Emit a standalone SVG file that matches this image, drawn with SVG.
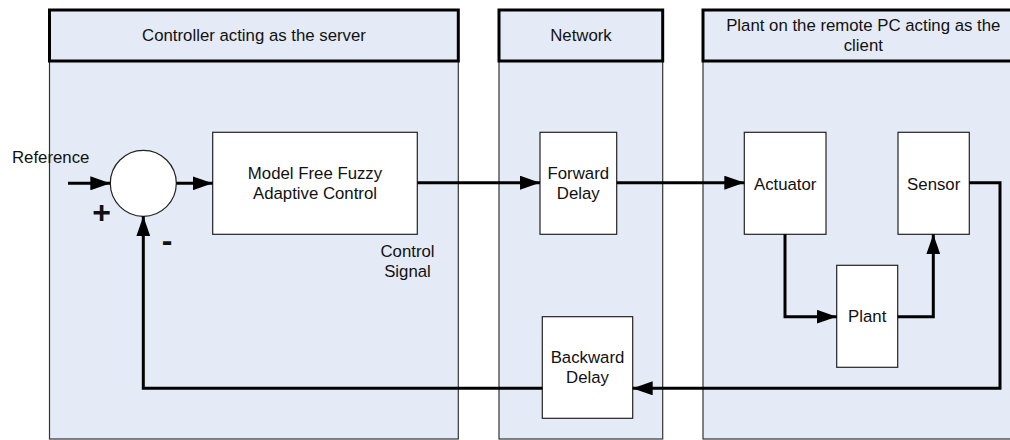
<svg xmlns="http://www.w3.org/2000/svg" width="1010" height="440" viewBox="0 0 1010 440">
  <style>
    .pool { fill: #e5ebf6; stroke: #333333; stroke-width: 1.2; }
    .hdr { fill: #e5ebf6; stroke: #000000; stroke-width: 3; }
    .box { fill: #ffffff; stroke: #222222; stroke-width: 1.2; }
    .sum { fill: #ffffff; stroke: #222222; stroke-width: 1.2; }
    text { font-family: "Liberation Sans", Arial, sans-serif; font-size: 16.8px; fill: #111111; }
    .c { text-anchor: middle; }
    .sign { font-weight: bold; font-size: 32px; text-anchor: middle; }
    .wire { fill: none; stroke: #000000; stroke-width: 3; }
  </style>
  <defs>
    <marker id="arrow" viewBox="0 0 20 14" refX="20" refY="7" markerWidth="20" markerHeight="14" markerUnits="userSpaceOnUse" orient="auto">
      <path d="M0,0 L20,7 L0,14 Z" fill="#000000"/>
    </marker>
  </defs>

  <!-- Swimlanes -->
  <g id="lane-controller">
    <rect class="pool" x="49.5" y="61" width="408.8" height="378"/>
    <rect class="hdr" x="49.5" y="10" width="408.8" height="51"/>
    <text class="c" x="254" y="40.7">Controller acting as the server</text>
  </g>
  <g id="lane-network">
    <rect class="pool" x="499" y="61" width="163.7" height="378"/>
    <rect class="hdr" x="499" y="10" width="163.7" height="51"/>
    <text class="c" x="581" y="40.7">Network</text>
  </g>
  <g id="lane-plant">
    <rect class="pool" x="703" y="61" width="330" height="378"/>
    <rect class="hdr" x="703" y="10" width="330" height="51"/>
    <text class="c" x="863.3" y="30.7">Plant on the remote PC acting as the</text>
    <text class="c" x="863.3" y="50.7">client</text>
  </g>

  <!-- Blocks -->
  <g id="summing-junction">
    <circle class="sum" cx="143.3" cy="183.3" r="33"/>
  </g>
  <g id="controller">
    <rect class="box" x="212.7" y="132.3" width="204.6" height="102"/>
    <text class="c" x="315" y="179">Model Free Fuzzy</text>
    <text class="c" x="315" y="199.3">Adaptive Control</text>
  </g>
  <g id="forward-delay">
    <rect class="box" x="540" y="132.3" width="76.7" height="102"/>
    <text class="c" x="578.3" y="179">Forward</text>
    <text class="c" x="578.3" y="199.3">Delay</text>
  </g>
  <g id="backward-delay">
    <rect class="box" x="542.3" y="316.7" width="90.4" height="101.6"/>
    <text class="c" x="587.5" y="362.7">Backward</text>
    <text class="c" x="587.5" y="383.3">Delay</text>
  </g>
  <g id="actuator">
    <rect class="box" x="744.3" y="132.3" width="81.7" height="102"/>
    <text class="c" x="785.2" y="190">Actuator</text>
  </g>
  <g id="sensor">
    <rect class="box" x="898" y="132.3" width="71.3" height="102"/>
    <text class="c" x="933.7" y="190">Sensor</text>
  </g>
  <g id="plant">
    <rect class="box" x="836.7" y="265.3" width="61" height="102"/>
    <text class="c" x="867.2" y="322">Plant</text>
  </g>

  <!-- Labels -->
  <g id="labels">
    <text x="12" y="163">Reference</text>
    <text class="sign" x="101.7" y="222.5">+</text>
    <text class="sign" x="167" y="250.5">-</text>
    <text class="c" x="407.5" y="256.7">Control</text>
    <text class="c" x="407.5" y="276.7">Signal</text>
  </g>

  <!-- Connectors -->
  <g id="connectors">
    <path class="wire" d="M68,183.3 H110.3" marker-end="url(#arrow)"/>
    <path class="wire" d="M176.3,183.3 H212.7" marker-end="url(#arrow)"/>
    <path class="wire" d="M417.3,182.7 H540" marker-end="url(#arrow)"/>
    <path class="wire" d="M616.7,182.7 H744.3" marker-end="url(#arrow)"/>
    <path class="wire" d="M785,234.3 V316.7 H836.7" marker-end="url(#arrow)"/>
    <path class="wire" d="M897.7,316.7 H933.3 V234.3" marker-end="url(#arrow)"/>
    <path class="wire" d="M969.3,182.7 H1000 V388.3 H632.7" marker-end="url(#arrow)"/>
    <path class="wire" d="M542.3,388.3 H143.3 V216.3" marker-end="url(#arrow)"/>
  </g>
</svg>
